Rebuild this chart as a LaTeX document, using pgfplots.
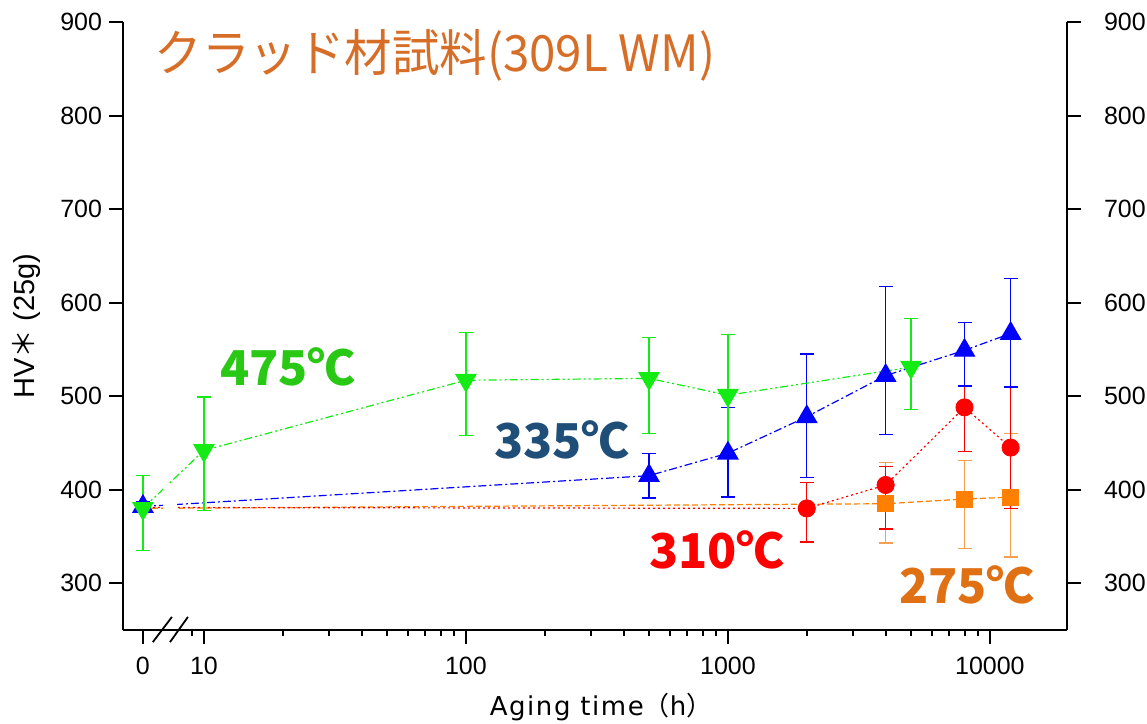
\documentclass[border=0pt]{standalone}
\usepackage{pgfplots}
\pgfplotsset{compat=1.18}
\usepackage{pgfplotstable}
\usepackage{fontspec}
\setmainfont{Liberation Sans}
\newfontfamily\vfont[LetterSpace=6]{DejaVu Sans}
\newfontfamily\cjk{Noto Sans CJK JP}

\definecolor{cgreen}{RGB}{20,235,20}
\definecolor{cgreenlbl}{RGB}{40,200,20}
\definecolor{cblue}{RGB}{0,0,255}
\definecolor{cbluelbl}{RGB}{31,78,121}
\definecolor{cred}{RGB}{255,0,0}
\definecolor{corange}{RGB}{255,128,0}
\definecolor{corangeerr}{RGB}{245,160,80}
\definecolor{corangelbl}{RGB}{224,112,20}
\definecolor{ctitle}{RGB}{215,110,40}

% aging time (h), HV, error plus, error minus; t = 0 is drawn at 5.85
\pgfplotstableread{
x     y    ep  em
5.85  380  35  45
10    442  57  64
100   517  51  59
500   519  44  59
1000  501  65  61
5000  531  52  45
}\tgreen
\pgfplotstableread{
x     y    ep  em
5.85  382  5   5
500   415  24  24
1000  439  49  47
2000  478  67  65
4000  522  95  63
8000  549  30  38
12000 567  59  57
}\tblue
\pgfplotstableread{
x     y    ep  em
2000  380  28  36
4000  405  20  47
8000  488  23  47
12000 445  65  65
}\tred
\pgfplotstableread{
x     y    ep  em
4000  385  44  42
8000  390  41  53
12000 392  68  64
}\torange

\pgfplotsset{
  baseax/.style={
    at={(61.5bp,47bp)}, anchor=south west,
    scale only axis, width=472bp, height=304bp,
    ymin=250, ymax=900,
    ytick={300,400,...,900},
    tick align=outside,
    major tick length=7bp, minor tick length=3bp,
    axis line style={line width=1bp, black},
    every tick/.style={line width=1bp, black},
    tick label style={font=\fontsize{12.5bp}{14bp}\selectfont},
    clip=false,
  },
  errs/.style={
    error bars/y dir=both, error bars/y explicit,
    error bars/error bar style={line width=0.7bp, solid},
    error bars/error mark options={rotate=90, mark size=3.5bp, line width=0.7bp, solid},
  },
}

\begin{document}
\begin{tikzpicture}
\useasboundingbox (0,0) rectangle (573.5bp,362bp);
\begin{axis}[baseax,
  /pgf/number format/assume math mode=true,
  xmode=log, xmin=4.91, xmax=19700,
  axis x line*=bottom, axis y line*=left,
  xtick={5.85,10,100,1000,10000},
  xticklabels={0,10,100,1000,10000},
  minor xtick={9,20,30,40,50,60,70,80,90,200,300,400,500,600,700,800,900,2000,3000,4000,5000,6000,7000,8000,9000},
  xticklabel style={yshift=-3bp},
]
% 275 C
\addplot[corange, line width=0.6bp, dash pattern=on 3bp off 1.5bp, no marks]
  coordinates {(5.85,380) (4000,385) (8000,390) (12000,392)};
\addplot[only marks, corange, mark=square*, mark size=4bp, mark options={fill=corange},
  errs, error bars/error bar style={corangeerr, line width=0.7bp, solid},
  error bars/error mark options={corangeerr, rotate=90, mark size=3.5bp, line width=0.7bp, solid}]
  table[x=x, y=y, y error plus=ep, y error minus=em] {\torange};
% 310 C
\addplot[cred, line width=0.6bp, dash pattern=on 1bp off 1.5bp, no marks]
  coordinates {(5.85,381) (2000,380) (4000,405) (8000,488) (12000,445)};
\addplot[only marks, cred, mark=*, mark size=4.3bp, mark options={fill=cred},
  errs] table[x=x, y=y, y error plus=ep, y error minus=em] {\tred};
% 335 C
\addplot[cblue, line width=0.6bp, dash pattern=on 4bp off 1.5bp on 1bp off 1.5bp,
  mark=triangle*, mark size=5.7bp, mark options={solid, fill=cblue},
  errs] table[x=x, y=y, y error plus=ep, y error minus=em] {\tblue};
% 475 C
\addplot[cgreen, line width=0.6bp, dash pattern=on 4bp off 1.5bp on 1bp off 1.5bp on 1bp off 1.5bp,
  mark=triangle*, mark size=5.7bp, mark options={solid, rotate=180, fill=cgreen},
  errs] table[x=x, y=y, y error plus=ep, y error minus=em] {\tgreen};
% gap in the lines at the axis break
\fill[white] (axis cs:6.98,362) rectangle (axis cs:7.89,405);
% axis break marks
\draw[line width=0.9bp] (axis cs:6.38,237) -- (axis cs:7.55,264);
\draw[line width=0.9bp] (axis cs:7.42,237) -- (axis cs:8.69,264);
\end{axis}
% right-hand y axis
\begin{axis}[baseax,
  /pgf/number format/assume math mode=true,
  xmin=0, xmax=1,
  axis x line=none, axis y line*=right,
  yticklabel style={xshift=8bp},
]
\addplot[draw=none] coordinates {(0.5,300)};
\end{axis}

\node[anchor=west, text=ctitle, xscale=0.95, font=\cjk\fontsize{25bp}{30bp}\selectfont]
  at (74bp,334.5bp) {クラッド材試料(309L WM)};
\node[font=\vfont\fontsize{13bp}{15bp}\selectfont] at (300.5bp,8.5bp) {Aging time{\cjk （}h{\cjk ）}};
\node[rotate=90, font=\fontsize{14.5bp}{16bp}\selectfont] at (13bp,199bp) {HV{\cjk ＊} (25g)};

\begin{scope}[every node/.style={font=\cjk\bfseries\fontsize{24bp}{28bp}\selectfont}]
\node[text=cgreenlbl] at (144bp,178.5bp) {475℃};
\node[text=cbluelbl] at (281bp,142bp) {335℃};
\node[text=cred] at (358.5bp,87bp) {310℃};
\node[text=corangelbl] at (483.5bp,69.5bp) {275℃};
\end{scope}
\end{tikzpicture}
\end{document}
